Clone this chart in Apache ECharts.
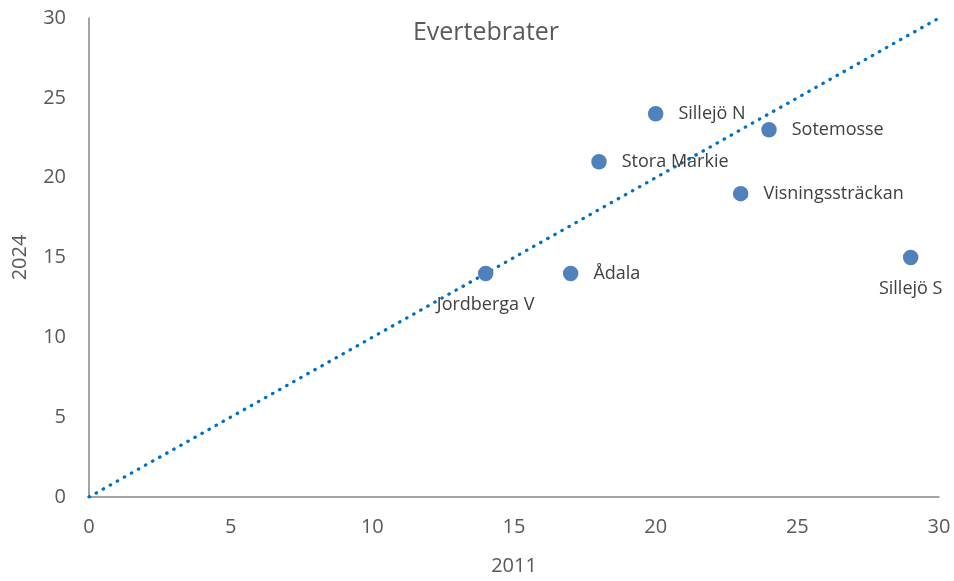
<!DOCTYPE html>
<html>
<head>
<meta charset="utf-8">
<script src="https://cdn.jsdelivr.net/npm/echarts@6/dist/echarts.min.js"></script>
<style>
  html, body { margin: 0; padding: 0; background: #fff; }
  #chart { width: 954px; height: 581px; }
</style>
</head>
<body>
<div id="chart"></div>
<script>
// Sites and their counts in 2011 (x) and 2024 (y)
const sites = ['Sillejö N', 'Sotemosse', 'Stora Markie', 'Visningssträckan', 'Jordberga V', 'Ådala', 'Sillejö S'];
const values2011 = [20, 24, 18, 23, 14, 17, 29];
const values2024 = [24, 23, 21, 19, 14, 14, 15];
const labelBelow = ['Jordberga V', 'Sillejö S'];
// 1:1 reference line
const refLine = [[0, 0], [30, 30]];

const font = '"Open Sans", "Noto Sans", sans-serif';

const points = sites.map((name, i) => ({
  name: name,
  value: [values2011[i], values2024[i]],
  label: labelBelow.includes(name)
    ? { position: 'bottom', distance: 15 }
    : { position: 'right', distance: 15 }
}));

const chart = echarts.init(document.getElementById('chart'), null, { renderer: 'canvas' });
chart.setOption({
  animation: false,
  backgroundColor: '#ffffff',
  title: {
    text: 'Evertebrater',
    left: 481,
    top: 15,
    textAlign: 'center',
    textStyle: { fontFamily: font, fontSize: 25, fontWeight: 'normal', color: '#595959' }
  },
  grid: { left: 89, right: 15, top: 18, bottom: 82, containLabel: false },
  xAxis: {
    type: 'value', min: 0, max: 30, interval: 5,
    name: '2011', nameLocation: 'middle', nameGap: 59,
    nameTextStyle: { fontFamily: font, fontSize: 20, color: '#595959' },
    axisLine: { show: true, lineStyle: { color: '#868686', width: 1.5 } },
    axisTick: { show: false },
    splitLine: { show: false },
    axisLabel: { fontFamily: font, fontSize: 20, color: '#595959', margin: 20 }
  },
  yAxis: {
    type: 'value', min: 0, max: 30, interval: 5,
    name: '2024', nameLocation: 'middle', nameGap: 59, nameRotate: 90,
    nameTextStyle: { fontFamily: font, fontSize: 20, color: '#595959' },
    axisLine: { show: true, onZero: false, lineStyle: { color: '#868686', width: 1.5 } },
    axisTick: { show: false },
    splitLine: { show: false },
    axisLabel: { fontFamily: font, fontSize: 20, color: '#595959', margin: 23 }
  },
  series: [
    {
      type: 'line',
      data: refLine,
      symbol: 'none',
      silent: true,
      z: 1,
      lineStyle: { color: '#0070C0', width: 3.2, type: [0.5, 7.6], cap: 'round' }
    },
    {
      type: 'scatter',
      data: points,
      symbolSize: 15.5,
      z: 2,
      itemStyle: { color: '#4F81BD', opacity: 1 },
      label: {
        show: true,
        formatter: p => p.name,
        fontFamily: font, fontSize: 18, color: '#404040'
      }
    }
  ]
});
</script>
</body>
</html>
